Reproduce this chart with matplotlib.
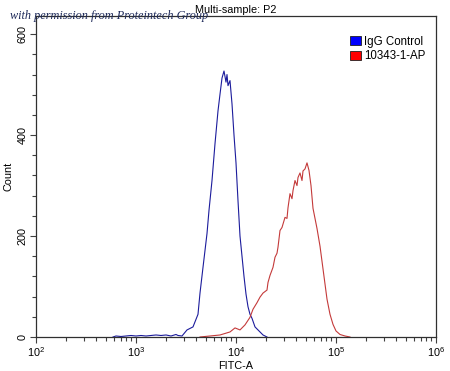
import matplotlib
matplotlib.use("Agg")
import matplotlib.pyplot as plt
from matplotlib.patches import Patch
from matplotlib.ticker import MultipleLocator, LogLocator, LogFormatterSciNotation
import numpy as np

plt.rcParams['font.family'] = ['Liberation Sans', 'DejaVu Sans']

# IgG control histogram: log10(FITC-A) channel and count
igg_log = [2.77, 2.80, 2.85, 2.90, 2.95, 3.00, 3.05, 3.10, 3.15, 3.20, 3.25, 3.30,
           3.35, 3.40, 3.42, 3.46, 3.51, 3.57, 3.62, 3.64, 3.67, 3.71, 3.73, 3.76,
           3.79, 3.82, 3.84, 3.86, 3.88, 3.90, 3.91, 3.92, 3.94, 3.96, 3.98, 4.00,
           4.02, 4.04, 4.06, 4.08, 4.10, 4.12, 4.14, 4.16, 4.19, 4.24, 4.27, 4.31]
igg_count = [0, 2, 1, 2, 3, 2, 3, 2, 3, 4, 3, 4,
             2, 5, 3, 2, 14, 20, 45, 87, 138, 205, 251, 310,
             383, 448, 481, 513, 527, 505, 520, 498, 508, 462, 400, 345,
             270, 200, 160, 120, 85, 60, 45, 37, 20, 10, 4, 0]

# 10343-1-AP histogram
ap_log = [3.64, 3.69, 3.74, 3.79, 3.84, 3.89, 3.94, 3.99, 4.04, 4.09, 4.14, 4.17,
          4.21, 4.24, 4.27, 4.31, 4.32, 4.34, 4.37, 4.39, 4.41, 4.42, 4.44, 4.46,
          4.49, 4.51, 4.52, 4.54, 4.56, 4.57, 4.59, 4.61, 4.62, 4.64, 4.66, 4.67,
          4.69, 4.71, 4.73, 4.75, 4.77, 4.79, 4.81, 4.84, 4.87, 4.89, 4.91, 4.94,
          4.97, 5.00, 5.04, 5.09, 5.14]
ap_count = [0, 1, 2, 3, 4, 7, 10, 18, 14, 24, 39, 55,
            68, 79, 87, 93, 108, 122, 138, 158, 166, 178, 211, 217,
            237, 235, 256, 284, 274, 290, 310, 300, 316, 325, 310, 329,
            333, 345, 330, 300, 255, 235, 215, 180, 135, 105, 75, 45,
            25, 12, 5, 2, 0]

series_labels = ['IgG Control', '10343-1-AP']

fig = plt.figure(figsize=(4.5, 3.71), dpi=100)
ax = fig.add_axes([36 / 450, 1 - 337 / 371, 400 / 450, 321 / 371])

ax.plot(10 ** np.array(igg_log), igg_count, color='#1c1c9c', lw=0.8)
ax.plot(10 ** np.array(ap_log), ap_count, color='#c43a3a', lw=0.8)

ax.set_xscale('log')
ax.set_xlim(1e2, 1e6)
ax.set_ylim(0, 636)
ax.xaxis.set_major_locator(LogLocator(base=10, numticks=10))
ax.xaxis.set_minor_locator(LogLocator(base=10, subs=np.arange(2, 10), numticks=20))
ax.xaxis.set_major_formatter(LogFormatterSciNotation())
ax.yaxis.set_major_locator(MultipleLocator(200))
ax.yaxis.set_minor_locator(MultipleLocator(40))

for sp in ax.spines.values():
    sp.set_color('#303030')
    sp.set_linewidth(0.9)

ax.tick_params(axis='both', which='major', labelsize=7.8, length=4, width=0.8,
               color='#404040', pad=2)
ax.tick_params(axis='both', which='minor', length=3, width=0.8, color='#404040')
for lab in ax.get_yticklabels():
    lab.set_rotation(90)
    lab.set_va('center')

ax.set_xlabel('FITC-A', fontsize=7.8, labelpad=1)
ax.set_ylabel('Count', fontsize=7.8, labelpad=3)
ax.set_title('Multi-sample: P2', fontsize=7.8, pad=2)

handles = [Patch(facecolor='#0000ff', edgecolor='#202020', lw=0.6),
           Patch(facecolor='#ff0000', edgecolor='#202020', lw=0.6)]
ax.legend(handles, series_labels, loc='upper right', fontsize=8.3, frameon=False,
          handlelength=0.9, handleheight=0.9, handletextpad=0.3, labelspacing=0.25,
          borderaxespad=0, bbox_to_anchor=((430 - 36) / 400, (337 - 31) / 321),
          bbox_transform=ax.transAxes)

fig.text(10 / 450, 1 - 19 / 371, 'with permission from Proteintech Group',
         family='Liberation Serif', style='italic', fontsize=8.8, color='#1e2a5a',
         va='baseline')

fig.savefig('out.png', dpi=100)
